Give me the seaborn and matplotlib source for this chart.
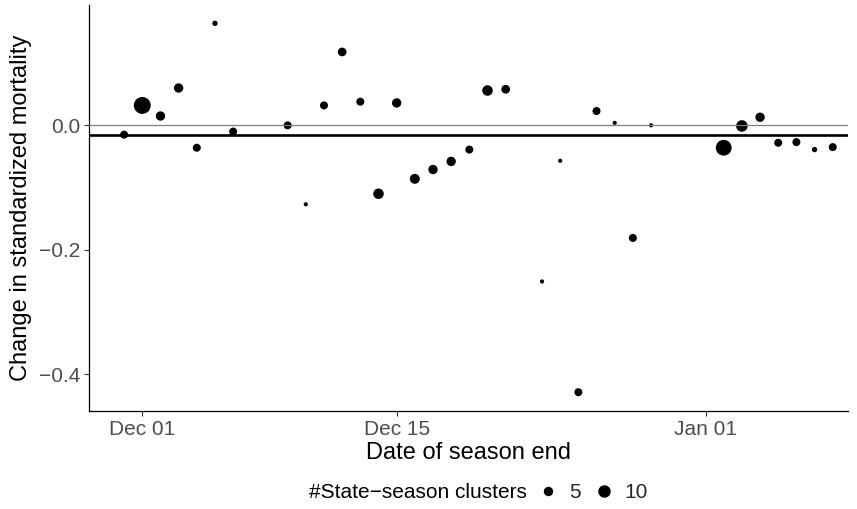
import matplotlib
matplotlib.use("Agg")
import matplotlib.pyplot as plt
import matplotlib.dates as mdates
from matplotlib.lines import Line2D
import numpy as np
import pandas as pd
import seaborn as sns

# Season-end dates, change in standardized mortality, and cluster counts
season_end = [
    "2019-11-30", "2019-12-01", "2019-12-02", "2019-12-03", "2019-12-04",
    "2019-12-05", "2019-12-06", "2019-12-09", "2019-12-10", "2019-12-11",
    "2019-12-12", "2019-12-13", "2019-12-14", "2019-12-15", "2019-12-16",
    "2019-12-17", "2019-12-18", "2019-12-19", "2019-12-20", "2019-12-21",
    "2019-12-23", "2019-12-24", "2019-12-25", "2019-12-26", "2019-12-27",
    "2019-12-28", "2019-12-29", "2020-01-02", "2020-01-03", "2020-01-04",
    "2020-01-05", "2020-01-06", "2020-01-07", "2020-01-08",
]
mortality_change = [
    -0.015, 0.032, 0.015, 0.060, -0.036,
    0.164, -0.010, 0.000, -0.127, 0.032,
    0.118, 0.038, -0.110, 0.036, -0.086,
    -0.071, -0.058, -0.039, 0.056, 0.058,
    -0.251, -0.057, -0.429, 0.023, 0.004,
    -0.181, 0.000, -0.036, -0.001, 0.013,
    -0.028, -0.027, -0.039, -0.035,
]
n_clusters = [
    5, 24, 7, 7, 5,
    2, 5, 5, 1, 5,
    6, 5, 9, 7, 8,
    7, 7, 5, 9, 6,
    1, 1, 5, 5, 1,
    5, 1, 21, 11, 7,
    5, 5, 2, 5,
]
overall_change = -0.015
legend_breaks = [5, 10]

df = pd.DataFrame({
    "date": pd.to_datetime(season_end),
    "change": mortality_change,
    "clusters": n_clusters,
})

sns.set_theme(style="ticks")
plt.rcParams["font.family"] = ["Liberation Sans", "DejaVu Sans"]
plt.rcParams["axes.unicode_minus"] = True

fig = plt.figure(figsize=(8.57, 5.09), dpi=100)
ax = fig.add_axes([0.1039, 0.1931, 0.8856, 0.797])

# marker area grows linearly with cluster count
size_norm = (0, 25)
size_range = (3.0, 154.0)


def marker_area(n):
    lo, hi = size_norm
    return size_range[0] + (size_range[1] - size_range[0]) * (n - lo) / (hi - lo)


sns.scatterplot(
    data=df, x="date", y="change", size="clusters",
    sizes=size_range, size_norm=size_norm,
    color="black", edgecolor="none", linewidth=0,
    legend=False, ax=ax, zorder=2,
)

ax.axhline(0, color="#7f7f7f", linewidth=0.9, zorder=3)
ax.axhline(overall_change, color="black", linewidth=1.9, zorder=3)

x0 = pd.Timestamp("2019-12-01")
ax.set_xlim(x0 - pd.Timedelta(days=2.93), x0 + pd.Timedelta(days=38.84))
ax.set_ylim(-0.4588, 0.1934)

ax.set_xticks(pd.to_datetime(["2019-12-01", "2019-12-15", "2020-01-01"]))
ax.xaxis.set_major_formatter(mdates.DateFormatter("%b %d"))
ax.set_yticks([-0.4, -0.2, 0.0])
ax.set_yticklabels(["\u22120.4", "\u22120.2", "0.0"])

for side in ["top", "right"]:
    ax.spines[side].set_visible(False)
for side in ["left", "bottom"]:
    ax.spines[side].set_color("black")
    ax.spines[side].set_linewidth(0.9)

ax.tick_params(axis="both", colors="#333333", labelcolor="#4d4d4d",
               labelsize=15, length=3.5, width=0.8, pad=3)

ax.set_xlabel("Date of season end", fontsize=17, color="black", labelpad=2)
ax.set_ylabel("Change in standardized mortality", fontsize=17, color="black",
              labelpad=5)

# size legend along the bottom
fig.text(527 / 857, 1 - 493 / 509, "#State\u2212season clusters",
         ha="right", va="center", fontsize=15, color="black")
handles = [
    Line2D([], [], marker="o", linestyle="", color="black",
           markersize=np.sqrt(marker_area(b)))
    for b in legend_breaks
]
fig.legend(handles, [str(b) for b in legend_breaks], loc="center left",
           bbox_to_anchor=(538 / 857, 1 - 493 / 509), ncol=2, frameon=False,
           fontsize=15, handlelength=1.0, handletextpad=0.5,
           columnspacing=0.6, borderpad=0, borderaxespad=0)

fig.savefig("out.png", dpi=100, facecolor="white")
